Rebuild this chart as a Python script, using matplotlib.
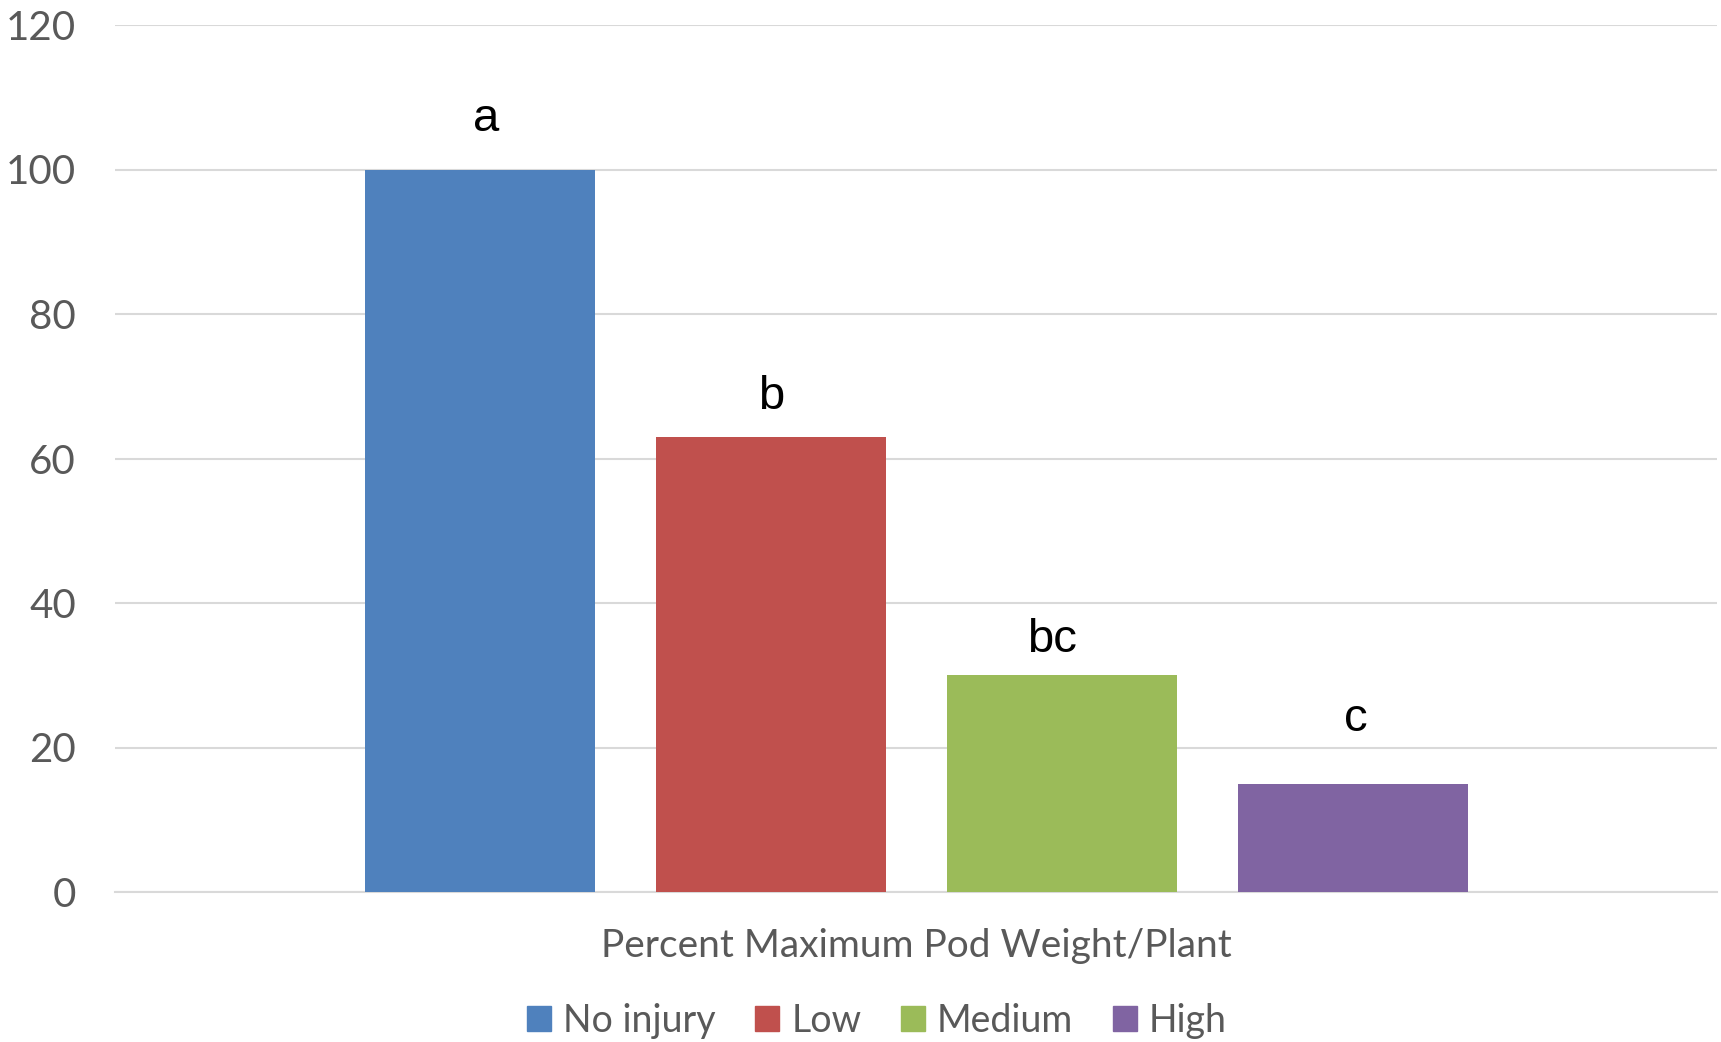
import matplotlib.pyplot as plt
from matplotlib.patches import Patch

# data
groups = ['No injury', 'Low', 'Medium', 'High']
values = [100, 63, 30, 15]
letters = ['a', 'b', 'bc', 'c']
letter_y = [107.0, 68.5, 34.9, 23.9]
letter_dx = [0.02, 0.0, -0.034, 0.011]
colors = ['#4f81bd', '#c0504d', '#9bbb59', '#8064a2']
yticks = [0, 20, 40, 60, 80, 100, 120]
xlabel = 'Percent Maximum Pod Weight/Plant'

grey = '#595959'
fig = plt.figure(figsize=(17.21, 10.42), dpi=100)
ax = fig.add_axes([115 / 1721, 150 / 1042, (1717 - 115) / 1721, (892 - 25) / 1042])

x = range(len(values))
ax.bar(x, values, width=0.79, color=colors, zorder=3)
for i, (t, ty, dx) in enumerate(zip(letters, letter_y, letter_dx)):
    ax.text(i + dx, ty, t, ha='center', va='center', fontsize=34,
            family='Liberation Sans', color='black')

ax.set_ylim(0, 120)
ax.set_xlim(-1.254, 4.251)
ax.set_yticks(yticks)
ax.set_yticklabels([str(v) for v in yticks], fontsize=29, family='Lato', color=grey)
ax.tick_params(axis='y', length=0, pad=28)
ax.set_xticks([])
ax.grid(axis='y', color='#d9d9d9', linewidth=1.5, zorder=0)
for s in ['top', 'right', 'left']:
    ax.spines[s].set_visible(False)
ax.spines['bottom'].set_color('#d9d9d9')
ax.spines['bottom'].set_linewidth(1.5)

fig.text(916 / 1721, 1 - 946 / 1042, xlabel, ha='center', va='center',
         fontsize=28, family='Lato', color=grey)

handles = [Patch(color=c, label=g) for c, g in zip(colors, groups)]
fig.legend(handles=handles, loc='center', bbox_to_anchor=(877 / 1721, 1 - 1021 / 1042),
           ncol=4, frameon=False, prop={'family': 'Lato', 'size': 27},
           labelcolor=grey, handlelength=0.64, handleheight=0.64,
           handletextpad=0.32, columnspacing=1.05, borderpad=0.1)

fig.savefig('out.png', dpi=100)
